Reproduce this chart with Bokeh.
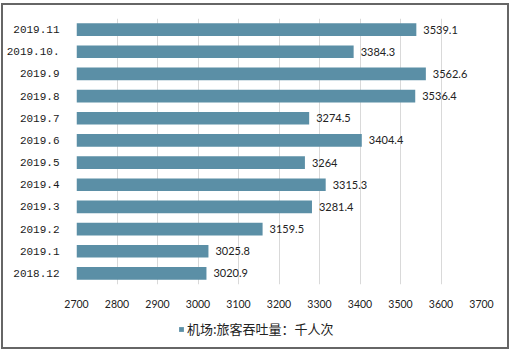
from bokeh.plotting import figure
from bokeh.layouts import column
from bokeh.models import ColumnDataSource, FactorRange, Range1d, Legend, LegendItem, FixedTicker
from bokeh.core.properties import value
from bokeh.embed import file_html
from bokeh.resources import INLINE

months = ["2019.11", "2019.10.", "2019.9", "2019.8", "2019.7", "2019.6",
          "2019.5", "2019.4", "2019.3", "2019.2", "2019.1", "2018.12"]
passengers = [3539.1, 3384.3, 3562.6, 3536.4, 3274.5, 3404.4,
              3264, 3315.3, 3281.4, 3159.5, 3025.8, 3020.9]
x_ticks = [2700, 2800, 2900, 3000, 3100, 3200, 3300, 3400, 3500, 3600, 3700]
series_name = "机场:旅客吞吐量：千人次"

BAR = "#5B8FA6"

src = ColumnDataSource(dict(
    month=months,
    val=passengers,
    base=[x_ticks[0]] * len(months),
    label=[f"{v:g}" for v in passengers],
))

p = figure(width=504, height=305, output_backend="svg", toolbar_location=None,
           y_range=FactorRange(*reversed(months)),
           x_range=Range1d(x_ticks[0], x_ticks[-1]),
           min_border_left=72, min_border_right=26, min_border_top=13, min_border_bottom=23)
p.outline_line_color = None
p.background_fill_color = "white"
p.border_fill_color = "white"

bars = p.hbar(y="month", left="base", right="val", height=0.57, source=src,
              fill_color=BAR, line_color=None)
p.text(x="val", y="month", text="label", source=src, x_offset=7,
       text_baseline="middle", text_align="left",
       text_font=value("Lato"), text_font_size="11px", text_color="#222222")

p.xaxis.ticker = FixedTicker(ticks=x_ticks)
p.xaxis.axis_line_color = None
p.xaxis.major_tick_line_color = None
p.xaxis.minor_tick_line_color = None
p.xaxis.major_label_standoff = 9
p.xaxis.major_label_text_font = "Lato"
p.xaxis.major_label_text_font_size = "10.5px"
p.xaxis.major_label_text_color = "#222222"

p.yaxis.axis_line_color = None
p.yaxis.major_tick_line_color = None
p.yaxis.minor_tick_line_color = None
p.yaxis.major_label_standoff = 11
p.yaxis.major_label_text_font = "Liberation Mono"
p.yaxis.major_label_text_font_size = "11px"
p.yaxis.major_label_text_color = "#1a1a1a"

p.ygrid.grid_line_color = None
p.xgrid.grid_line_color = "#D9D9D9"
p.xgrid.grid_line_width = 1

# legend strip below the chart (its frame is aligned with the chart's frame)
q = figure(width=504, height=37, output_backend="svg", toolbar_location=None,
           x_range=Range1d(0, 1), y_range=Range1d(0, 1),
           x_axis_type=None, y_axis_type=None,
           min_border_left=0, min_border_right=0, min_border_top=0, min_border_bottom=0)
q.outline_line_color = None
q.grid.grid_line_color = None
q.background_fill_color = "white"
q.border_fill_color = "white"
key = q.hbar(y=[-10], left=[0], right=[1], height=0.5, fill_color=BAR, line_color=None)

legend = Legend(items=[LegendItem(label=series_name, renderers=[key])],
                location=(102, 9), orientation="horizontal",
                glyph_width=6, glyph_height=6, padding=0, margin=0,
                label_standoff=3, border_line_color=None,
                background_fill_alpha=0,
                label_text_font="Noto Sans CJK SC", label_text_font_size="13px",
                label_text_color="#222222")
q.add_layout(legend, "center")

page = column(p, q, spacing=0,
              styles={"margin-left": "1px", "margin-top": "3px",
                      "border": "2px solid #666666", "background": "white"})

open("out.html", "w").write(file_html(page, INLINE))
